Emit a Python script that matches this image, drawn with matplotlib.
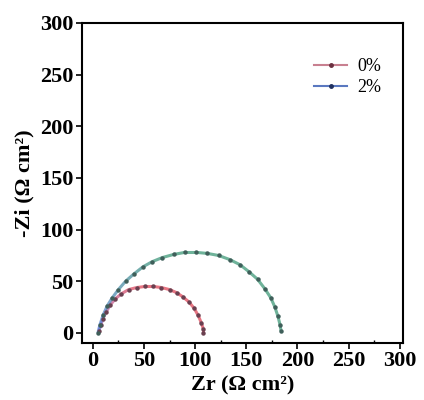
import numpy as np
from matplotlib import pyplot as plt
from matplotlib.collections import LineCollection
from matplotlib import colors as mcolors

# Nyquist data
zr_0 = [6, 8, 10, 13, 17, 22, 28, 35, 43, 51, 59, 67, 75, 82, 88, 94, 99, 103, 106, 108, 108]
zi_0 = [2, 8, 14, 20, 27, 33, 38, 42, 44, 45, 45, 44, 42, 39, 35, 30, 24, 17, 10, 4, 0]

zr_2 = [5, 7, 10, 14, 19, 25, 32, 40, 49, 58, 68, 79, 90, 101, 112, 123, 134, 144, 153, 161, 168, 174, 178, 181, 183, 184]
zi_2 = [0, 8, 17, 26, 34, 42, 50, 57, 64, 69, 73, 76, 78, 78, 77, 75, 71, 66, 59, 52, 43, 34, 25, 16, 8, 2]

labels = ["0%", "2%"]

plt.rcParams['font.family'] = ['Liberation Serif', 'DejaVu Serif']

fig = plt.figure(figsize=(4.24, 4.0), dpi=100)
ax = fig.add_axes([0.193, 0.1425, 0.757, 0.80])


def grad_line(x, y, c0, c1):
    pts = np.column_stack([x, y]).reshape(-1, 1, 2)
    segs = np.concatenate([pts[:-1], pts[1:]], axis=1)
    t = np.linspace(0, 1, len(segs))
    a = np.array(mcolors.to_rgb(c0))
    b = np.array(mcolors.to_rgb(c1))
    cols = [tuple(a + (b - a) * min(1, v * 2.5)) for v in t]
    ax.add_collection(LineCollection(segs, colors=cols, linewidths=2.2, alpha=0.75))


grad_line(zr_0, zi_0, "#a070c8", "#e0485a")
grad_line(zr_2, zi_2, "#5a80d8", "#3f9a78")
ax.plot(zr_0, zi_0, ls="none", marker="o", ms=2.2, color="#6a4050")
ax.plot(zr_2, zi_2, ls="none", marker="o", ms=2.2, color="#3f5f5a")

# legend handles
ax.plot([], [], color="#c88090", lw=1.5, marker="o", ms=2.5, mfc="#6a3040", mec="#6a3040", label=labels[0])
ax.plot([], [], color="#5a78c0", lw=1.5, marker="o", ms=2.5, mfc="#203060", mec="#203060", label=labels[1])
ax.legend(loc="upper right", frameon=False, fontsize=13, handlelength=1.8,
          bbox_to_anchor=(0.985, 0.94), handletextpad=0.6, labelspacing=0.2)

ax.set_xlim(-10.7, 303)
ax.set_ylim(-9.7, 300)
ax.set_xticks(range(0, 301, 50))
ax.set_yticks(range(0, 301, 50))
ax.set_xticks(range(25, 300, 50), minor=True)
ax.tick_params(direction="out", length=4, width=1.2, labelsize=16, pad=2)
ax.tick_params(axis="x", which="minor", direction="in", length=2, width=1)
for lab in ax.get_xticklabels() + ax.get_yticklabels():
    lab.set_fontweight("bold")
for s in ax.spines.values():
    s.set_linewidth(1.5)

ax.set_xlabel("Zr (Ω cm²)", fontsize=16, fontweight="bold", labelpad=3)
ax.set_ylabel("-Zi (Ω cm²)", fontsize=16, fontweight="bold", labelpad=4)

fig.savefig("out.png", dpi=100)
